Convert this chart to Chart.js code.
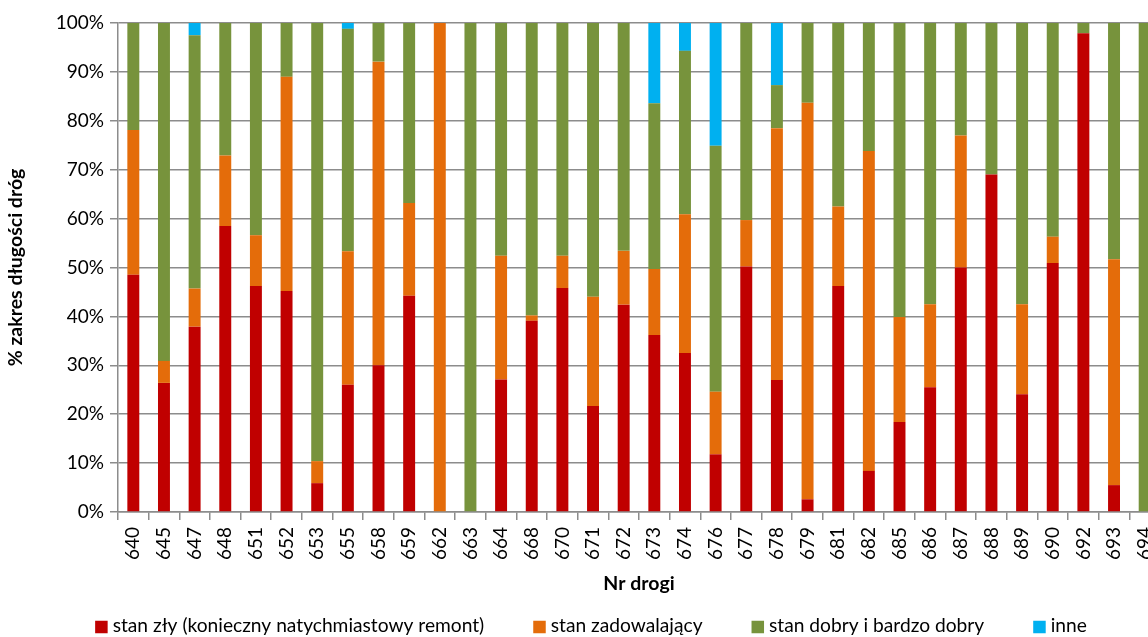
<!DOCTYPE html>
<html>
<head>
<meta charset="utf-8">
<script src="https://cdn.jsdelivr.net/npm/chart.js@4/dist/chart.umd.min.js"></script>
<style>
  html, body { margin: 0; padding: 0; background: #fff; overflow: hidden; }
  #wrap { width: 1180px; height: 637px; }
</style>
</head>
<body>
<div id="wrap"><canvas id="c" width="1180" height="637"></canvas></div>
<script>
const categories = ['640','645','647','648','651','652','653','655','658','659','662','663','664','668','670','671','672','673','674','676','677','678','679','681','682','685','686','687','688','689','690','692','693','694'];
const stanZly = [48.5,26.4,37.9,58.5,46.2,45.2,5.9,26.0,30.0,44.2,0,0,27.1,39.1,45.8,21.7,42.4,36.2,32.5,11.8,50.2,27.0,2.6,46.2,8.4,18.4,25.5,50.0,69.0,24.1,50.9,97.9,5.5,0];
const stanZadowalajacy = [29.6,4.5,7.8,14.4,10.4,43.8,4.5,27.3,62.1,19.0,100,0,25.3,1.1,6.6,22.3,11.0,13.5,28.4,12.8,9.5,51.5,81.1,16.3,65.4,21.5,17.0,27.0,0,18.4,5.4,0,46.2,0];
const stanDobry = [21.9,69.1,51.8,27.1,43.4,11.0,89.6,45.5,7.9,36.8,0,100,47.6,59.8,47.6,56.0,46.6,33.9,33.4,50.3,40.3,8.8,16.3,37.5,26.2,60.1,57.5,23.0,31.0,57.5,43.7,2.1,48.3,100];
const inne = [0,0,2.5,0,0,0,0,1.2,0,0,0,0,0,0,0,0,0,16.4,5.7,25.1,0,12.7,0,0,0,0,0,0,0,0,0,0,0,0];
const yTicks = [0,10,20,30,40,50,60,70,80,90,100];

const FONT = 'Lato, "Open Sans", sans-serif';
const GRID = '#8c8c8c';

function ds(label, data, color) {
  return { label, data, backgroundColor: color, borderWidth: 0, categoryPercentage: 1.0, barPercentage: 0.39 };
}

// Custom bottom legend (drawn with the dataset labels/colours)
const bottomLegend = {
  id: 'bottomLegend',
  afterDraw(chart) {
    const ctx = chart.ctx;
    const fontSize = 19.2, box = 12.5, boxGap = 5, itemGap = 49, centerX = 591, centerY = 626;
    ctx.save();
    ctx.font = fontSize + 'px ' + FONT;
    ctx.textBaseline = 'middle';
    const items = chart.data.datasets.map(d => ({ text: d.label, color: d.backgroundColor, w: ctx.measureText(d.label).width }));
    const total = items.reduce((s, it) => s + box + boxGap + it.w, 0) + itemGap * (items.length - 1);
    let x = centerX - total / 2;
    items.forEach(it => {
      ctx.fillStyle = it.color;
      ctx.fillRect(x, centerY - box / 2 + 1, box, box);
      ctx.fillStyle = '#000';
      ctx.fillText(it.text, x + box + boxGap, centerY);
      x += box + boxGap + it.w + itemGap;
    });
    ctx.restore();
  }
};

new Chart(document.getElementById('c'), {
  type: 'bar',
  data: {
    labels: categories,
    datasets: [
      ds('stan zły (konieczny natychmiastowy remont)', stanZly, '#C00000'),
      ds('stan zadowalający', stanZadowalajacy, '#E46C0A'),
      ds('stan dobry i bardzo dobry', stanDobry, '#77933C'),
      ds('inne', inne, '#00B0F0')
    ]
  },
  plugins: [bottomLegend],
  options: {
    responsive: false,
    animation: false,
    layout: { padding: { left: 4, right: 20, top: 23, bottom: 30 } },
    plugins: {
      tooltip: { enabled: false },
      legend: { display: false }
    },
    scales: {
      x: {
        stacked: true,
        grid: { display: true, drawOnChartArea: false, drawTicks: true, tickLength: 8, color: GRID, lineWidth: 1.5 },
        border: { display: true, color: GRID, width: 1.5 },
        ticks: { font: { family: FONT, size: 19 }, color: '#000', maxRotation: 90, minRotation: 90, padding: 7, autoSkip: false },
        title: { display: true, text: 'Nr drogi', font: { family: FONT, size: 19.5, weight: 'bold' }, color: '#000', padding: { top: 4, bottom: 12 } },
        afterFit(scale) { scale.height = 95; }
      },
      y: {
        stacked: true,
        min: 0, max: 100,
        afterBuildTicks(scale) { scale.ticks = yTicks.map(v => ({ value: v })); },
        grid: { color: GRID, lineWidth: 1.5, drawTicks: true, tickLength: 8 },
        border: { display: true, color: GRID, width: 1.5 },
        ticks: { font: { family: FONT, size: 19 }, color: '#000', padding: 6, callback: v => v + '%' },
        title: { display: true, text: '% zakres długości dróg', font: { family: FONT, size: 19.5, weight: 'bold' }, color: '#000', padding: { top: 0, bottom: 6 } },
        afterFit(scale) { scale.width = 114; }
      }
    }
  }
});
</script>
</body>
</html>
